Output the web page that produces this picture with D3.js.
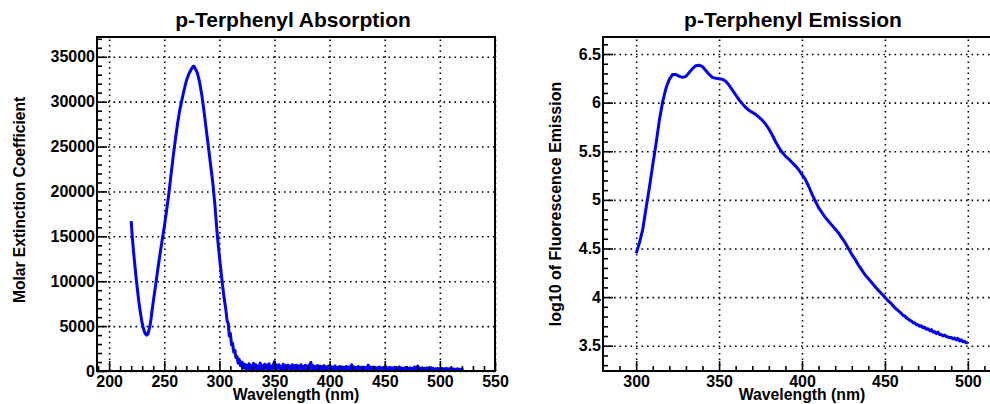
<!DOCTYPE html>
<html><head><meta charset="utf-8">
<script src="https://cdn.jsdelivr.net/npm/d3@7"></script>
<style>
body{margin:0;background:#fff;overflow:hidden}
svg{display:block}
text{font-family:"Liberation Sans",Arial,Helvetica,sans-serif;font-weight:bold;fill:#000}
</style>
</head><body><svg id="c" width="990" height="404"></svg>
<script>
// ---------- DATA ----------
// Absorption (molar extinction coefficient vs wavelength, nm)
const absWavelength = [220,221,222,223,224,225,226,227,228,229,230,231,232,233,234,235,236,237,238,239,240,242,244,246,248,250,252,254,256,258,260,262,264,266,268,270,272,274,276,277,278,280,282,284,286,288,290,292,294,296,298,300,302,304,306,307,308,309,310,311,312,313,314,315,316,317,318,319,320];
const absValue = [16700,15000,13500,12200,11000,9800,8700,7700,6800,6000,5300,4800,4400,4100,4000,4100,4500,5000,5800,6800,7700,9400,11200,12900,14500,16000,17800,19600,21700,23800,25700,27500,29000,30200,31300,32300,33000,33500,33900,33950,33700,33200,32200,30800,29000,27000,25000,23000,21000,18400,15300,12800,10500,8400,6700,5600,5300,3900,4200,2900,3100,2100,2300,1500,1600,900,1300,600,1000];
// Noisy tail, one value per nm starting at 321 nm
const absTailStart = 321;
const absTailValue = [900,350,750,200,650,150,800,250,600,100,850,300,700,150,550,250,900,200,600,100,750,300,650,150,800,250,550,200,700,1050,150,650,300,700,200,550,150,750,250,600,150,650,300,550,100,700,250,600,200,650,150,550,300,700,200,500,150,650,250,550,200,700,950,150,600,250,500,150,600,200,550,150,500,250,600,150,450,200,550,150,500,200,450,100,550,200,400,150,500,200,450,100,400,200,500,150,450,200,400,700,150,450,200,400,100,500,200,400,150,450,200,400,100,450,650,150,400,200,450,100,400,200,350,150,450,200,350,100,400,200,450,150,350,200,400,100,350,150,400,200,350,100,450,150,350,200,300,100,400,150,300,50,350,150,300,100,450,50,350,550,100,300,50,350,150,300,100,350,50,300,150,350,100,300,50,250,150,300,50,250,100,300,50,250,150,300,100,250,50,300,100,250,50,200,150,250,100,200,50,200,100];

// Emission (log10 of fluorescence vs wavelength, nm)
const emWavelength = [300,302,304,306,308,310,312,314,316,318,320,322,324,326,328,330,332,334,336,338,340,342,344,346,348,350,352,354,356,358,360,362,364,366,368,370,372,374,376,378,380,382,384,386,388,390,392,394,396,398,400,402,404,406,408,410,412,414,416,418,420,422,424,426,428,430,432,434,436,438,440,442,444,446,448,450,452,454,456,458,460,461,462,463,464,465,466,467,468,469,470,471,472,473,474,475,476,477,478,479,480,481,482,483,484,485,486,487,488,489,490,491,492,493,494,495,496,497,498,499,500];
const emValue = [4.45,4.56,4.70,4.92,5.13,5.36,5.58,5.82,6.01,6.15,6.24,6.29,6.29,6.27,6.26,6.27,6.31,6.35,6.38,6.385,6.37,6.33,6.29,6.26,6.25,6.245,6.24,6.22,6.18,6.13,6.08,6.03,5.99,5.95,5.92,5.90,5.88,5.85,5.82,5.78,5.73,5.67,5.60,5.54,5.49,5.45,5.42,5.385,5.35,5.31,5.26,5.21,5.14,5.06,4.99,4.92,4.87,4.82,4.78,4.74,4.70,4.66,4.61,4.56,4.50,4.44,4.39,4.33,4.28,4.23,4.19,4.15,4.11,4.07,4.035,4.00,3.96,3.93,3.89,3.86,3.83,3.81,3.805,3.785,3.775,3.76,3.755,3.735,3.735,3.715,3.715,3.70,3.705,3.685,3.69,3.67,3.675,3.655,3.665,3.64,3.645,3.625,3.64,3.615,3.615,3.60,3.61,3.595,3.59,3.585,3.585,3.57,3.58,3.56,3.575,3.55,3.56,3.54,3.545,3.53,3.53];

// Tick labels
const absXTicks = [200,250,300,350,400,450,500,550];
const absYTicks = [0,5000,10000,15000,20000,25000,30000,35000];
const emXTicks = [300,350,400,450,500];
const emYTicks = [3.5,4,4.5,5,5.5,6,6.5];
const emYLabels = ["3.5","4","4.5","5","5.5","6","6.5"];

// ---------- DRAW ----------
const svg = d3.select("#c");
const absX = absTailValue.map((v,i)=>absTailStart+i);
const absData = absWavelength.map((w,i)=>[w,absValue[i]]).concat(absTailValue.map((v,i)=>[absX[i],v]));
const emData = emWavelength.map((w,i)=>[w,emValue[i]]);

function panel(o){
  const g = svg.append("g");
  const x = d3.scaleLinear().domain(o.xd).range([o.l,o.r]);
  const y = d3.scaleLinear().domain(o.yd).range([o.b,o.t]);
  const w = o.r-o.l, h = o.b-o.t;
  const id = "clip"+o.name;
  svg.append("clipPath").attr("id",id).append("rect").attr("x",o.l).attr("y",o.t).attr("width",w).attr("height",h);

  // grid
  const gx = g.append("g").attr("transform",`translate(0,${o.b})`)
    .call(d3.axisBottom(x).tickValues(o.xt).tickSize(-h).tickFormat(""));
  const gy = g.append("g").attr("transform",`translate(${o.l},0)`)
    .call(d3.axisLeft(y).tickValues(o.yt).tickSize(-w).tickFormat(""));
  [gx,gy].forEach(a=>{a.select(".domain").remove();
    a.selectAll("line").attr("stroke","#000").attr("stroke-width",1.6).attr("stroke-dasharray","1.6,3.9");});

  // curve
  g.append("path").datum(o.data).attr("clip-path",`url(#${id})`)
    .attr("fill","none").attr("stroke","#0000ff").attr("stroke-width",3).attr("stroke-linejoin","round")
    .attr("d",d3.line().x(d=>x(d[0])).y(d=>y(d[1])));

  // minor ticks
  const mx = g.append("g").attr("transform",`translate(0,${o.b})`)
    .call(d3.axisBottom(x).tickValues(o.xminor).tickSize(-5).tickFormat(""));
  const my = g.append("g").attr("transform",`translate(${o.l},0)`)
    .call(d3.axisLeft(y).tickValues(o.yminor).tickSize(-5).tickFormat(""));
  // major ticks + labels
  const ax = g.append("g").attr("transform",`translate(0,${o.b})`)
    .call(d3.axisBottom(x).tickValues(o.xt).tickSizeInner(-10).tickSizeOuter(0).tickPadding(5).tickFormat(d3.format("d")));
  const ay = g.append("g").attr("transform",`translate(${o.l},0)`)
    .call(d3.axisLeft(y).tickValues(o.yt).tickSizeInner(-10).tickSizeOuter(0).tickPadding(2).tickFormat((d,i)=>o.ylab[i]));
  [mx,my,ax,ay].forEach(a=>{a.select(".domain").remove();
    a.selectAll("line").attr("stroke","#000").attr("stroke-width",1.6);
    a.selectAll("text").attr("font-size",16).attr("font-family",null).attr("fill","#000");});

  // frame
  g.append("rect").attr("x",o.l).attr("y",o.t).attr("width",w).attr("height",h)
    .attr("fill","none").attr("stroke","#000").attr("stroke-width",2);

  // titles
  g.append("text").attr("x",o.tx).attr("y",27).attr("text-anchor","middle").attr("font-size",21).text(o.title);
  g.append("text").attr("x",(o.l+o.r)/2).attr("y",400).attr("text-anchor","middle").attr("font-size",15.8).text("Wavelength (nm)");
  g.append("text").attr("transform",`translate(${o.ylx},${o.yly}) rotate(-90)`).attr("text-anchor","middle").attr("font-size",o.ylfs).text(o.ytitle);
}

panel({name:"abs", l:97, r:495, t:37, b:371, xd:[189,550], yd:[0,37200],
  xt:absXTicks, yt:absYTicks, ylab:absYTicks.map(String),
  xminor:d3.range(190,551,10).filter(v=>v%50!==0), yminor:d3.range(1000,37001,1000).filter(v=>v%5000!==0),
  data:absData, title:"p-Terphenyl Absorption", tx:293,
  ytitle:"Molar Extinction Coefficient", ylx:25, yly:200, ylfs:15.6});

panel({name:"em", l:603, r:1001, t:37, b:371, xd:[280,520], yd:[3.24,6.675],
  xt:emXTicks, yt:emYTicks, ylab:emYLabels,
  xminor:[290,310,320,330,340,360,370,380,390,410,420,430,440,460,470,480,490,510],
  yminor:[3.3,3.4,3.6,3.7,3.8,3.9,4.1,4.2,4.3,4.4,4.6,4.7,4.8,4.9,5.1,5.2,5.3,5.4,5.6,5.7,5.8,5.9,6.1,6.2,6.3,6.4,6.6],
  data:emData, title:"p-Terphenyl Emission", tx:793,
  ytitle:"log10 of Fluorescence Emission", ylx:561, yly:204, ylfs:16});
</script></body></html>
